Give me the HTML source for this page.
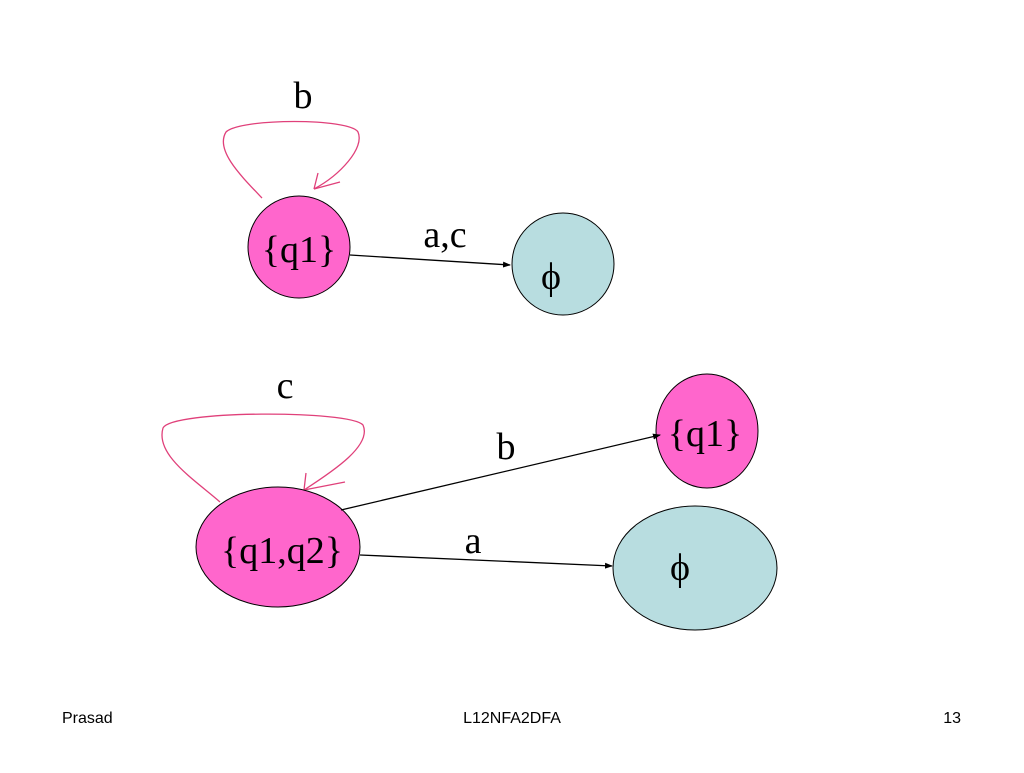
<!DOCTYPE html>
<html><head><style>
body{margin:0;width:1024px;height:768px;background:#fff;overflow:hidden}
</style></head><body>
<svg width="1024" height="768" xmlns="http://www.w3.org/2000/svg">
<defs><marker id="ah" markerWidth="8" markerHeight="8" refX="7" refY="4" orient="auto" markerUnits="userSpaceOnUse"><path d="M0,1 L8,4 L0,7 z" fill="#000"/></marker></defs>
<g font-family="Liberation Serif, serif" fill="#000">
<!-- top -->
<path d="M262,198 C240,175 215,150 226,132 C240,118 350,118 358,132 C365,148 340,175 314,189" fill="none" stroke="#e0407a" stroke-width="1.3"/>
<path d="M314,189 L318,173 M314,189 L340,182" fill="none" stroke="#e0407a" stroke-width="1.3"/>
<circle cx="299" cy="247" r="51" fill="#ff66cc" stroke="#000"/>
<line x1="350" y1="255" x2="510" y2="265" stroke="#000" stroke-width="1.3" marker-end="url(#ah)"/>
<ellipse cx="563" cy="264" rx="51" ry="51" fill="#b8dde0" stroke="#000"/>
<text x="303" y="108" font-size="38" text-anchor="middle">b</text>
<text x="445" y="247" font-size="38" text-anchor="middle">a,c</text>
<text x="299" y="262" font-size="38" text-anchor="middle">{q1}</text>
<text x="551" y="289" font-size="38" text-anchor="middle">ϕ</text>
<!-- bottom -->
<path d="M220,502 C195,480 155,455 163,428 C172,410 350,410 363,425 C372,445 335,470 304,490" fill="none" stroke="#e0407a" stroke-width="1.3"/>
<path d="M304,490 L306,473 M304,490 L345,482" fill="none" stroke="#e0407a" stroke-width="1.3"/>
<ellipse cx="278" cy="547" rx="82" ry="60" fill="#ff66cc" stroke="#000"/>
<ellipse cx="707" cy="431" rx="51" ry="57" fill="#ff66cc" stroke="#000"/>
<ellipse cx="695" cy="568" rx="82" ry="62" fill="#b8dde0" stroke="#000"/>
<line x1="341" y1="510" x2="660" y2="435" stroke="#000" stroke-width="1.3" marker-end="url(#ah)"/>
<line x1="360" y1="555" x2="612" y2="566" stroke="#000" stroke-width="1.3" marker-end="url(#ah)"/>
<text x="285" y="398" font-size="38" text-anchor="middle">c</text>
<text x="506" y="459" font-size="38" text-anchor="middle">b</text>
<text x="473" y="553" font-size="38" text-anchor="middle">a</text>
<text x="282" y="563" font-size="38" text-anchor="middle">{q1,q2}</text>
<text x="705" y="446" font-size="38" text-anchor="middle">{q1}</text>
<text x="680" y="580" font-size="38" text-anchor="middle">ϕ</text>
</g>
<g font-family="Liberation Sans, sans-serif" font-size="16" fill="#000">
<text x="62" y="723">Prasad</text>
<text x="512" y="723" text-anchor="middle">L12NFA2DFA</text>
<text x="961" y="723" text-anchor="end">13</text>
</g>
</svg>
</body></html>
